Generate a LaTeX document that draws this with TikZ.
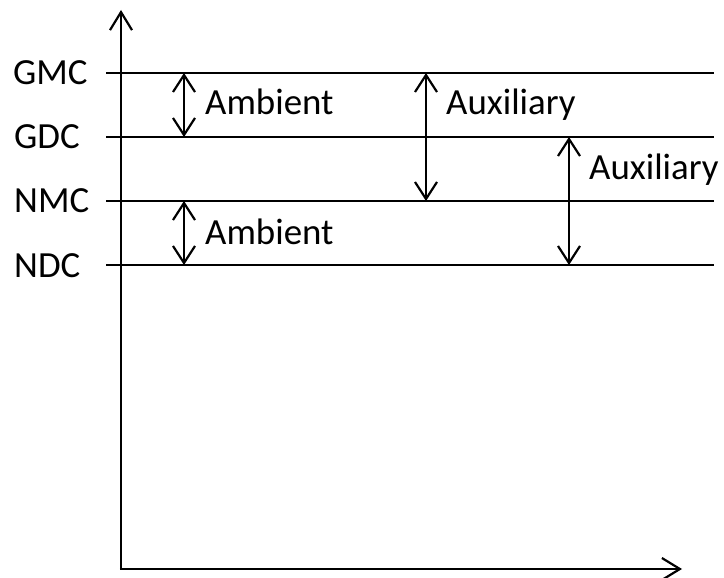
\documentclass[tikz,border=0pt]{standalone}
\usepackage{fontspec}
\setmainfont{Carlito}
\usetikzlibrary{arrows.meta}
\begin{document}
\begin{tikzpicture}[x=1bp,y=-1bp,
  every node/.style={inner sep=0pt,font=\fontsize{37}{41}\selectfont},
  axis/.style={line width=2.2pt,-{Straight Barb[length=18bp,width=22bp,line width=2.2pt]}},
  level/.style={line width=2.2pt},
  span/.style={line width=2.2pt,{Straight Barb[length=17bp,width=22bp,line width=2.2pt]}-{Straight Barb[length=17bp,width=22bp,line width=2.2pt]}},
  lvl/.style={anchor=base west},
  tag/.style={anchor=base west}]
\useasboundingbox (0,0) rectangle (724,578);

% axes
\coordinate (o) at (121,569);
\coordinate (ytop) at (121,10);
\coordinate (xend) at (682,569);
\draw[axis] (o) -- (ytop);
\draw[axis] ([xshift=-1.1bp]o) -- (xend);

% levels
\foreach \name/\y in {gmc/73,gdc/137,nmc/201,ndc/265}{
  \coordinate (\name-l) at (106,\y);
  \coordinate (\name-r) at (714,\y);
  \draw[level] (\name-l) -- (\name-r);
}

% level labels
\node[lvl] (tgmc) at (13,85) {GMC};
\node[lvl] (tgdc) at (14,149) {GDC};
\node[lvl] (tnmc) at (14,213) {NMC};
\node[lvl] (tndc) at (14,277) {NDC};

% spans between levels
\coordinate (a1t) at (184,73);  \coordinate (a1b) at (184,137);
\coordinate (a2t) at (184,201); \coordinate (a2b) at (184,265);
\coordinate (x1t) at (426,73);  \coordinate (x1b) at (426,201);
\coordinate (x2t) at (569,137); \coordinate (x2b) at (569,265);
\draw[span] (a1t) -- (a1b);
\draw[span] (a2t) -- (a2b);
\draw[span] (x1t) -- (x1b);
\draw[span] (x2t) -- (x2b);

% span labels
\node[tag] (amb1) at (205,115) {Ambient};
\node[tag] (amb2) at (205,244) {Ambient};
\node[tag] (aux1) at (446,115) {Auxiliary};
\node[tag] (aux2) at (589,180) {Auxiliary};
\end{tikzpicture}
\end{document}
